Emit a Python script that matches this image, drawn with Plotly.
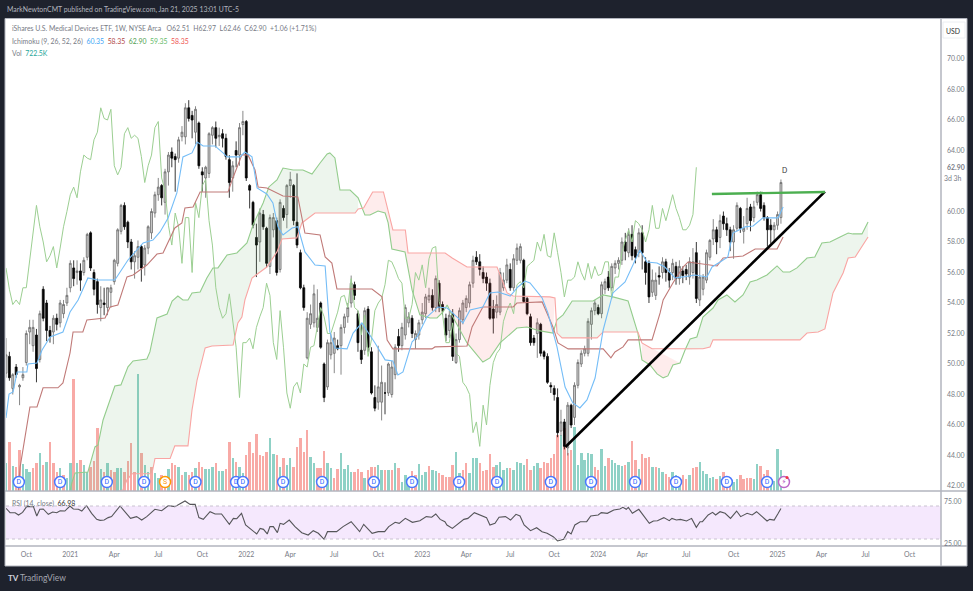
import numpy as np
import pandas as pd
import plotly.graph_objects as go

BASE = pd.Timestamp("2020-08-24")

opens = [49.4,50.5,48.4,49.8,48.5,49.1,50.1,52.1,51.2,51.9,
50.3,54.9,54.0,52.2,52.1,53.0,52.7,53.3,54.0,55.0,
56.3,56.0,56.1,56.0,57.0,58.6,56.0,55.4,53.7,54.0,
53.7,54.7,55.4,56.6,58.7,60.4,59.3,58.0,56.7,57.0,
57.7,56.5,57.6,58.6,59.9,61.1,61.7,60.6,62.6,63.9,
63.6,63.5,64.9,64.9,66.8,66.3,65.2,65.8,62.6,62.2,
62.5,65.0,65.5,64.9,65.1,64.8,63.4,62.2,64.0,63.7,
65.7,65.9,61.7,60.6,58.3,58.0,59.8,58.9,56.4,58.8,
59.4,56.2,60.2,59.8,61.7,61.7,59.3,57.3,55.0,50.4,
52.6,52.7,52.4,54.0,50.0,48.5,50.6,50.7,51.2,51.2,
52.4,53.1,54.0,55.2,53.3,50.9,50.9,53.6,50.8,47.8,
47.5,47.5,48.1,48.1,48.0,49.3,51.8,51.2,51.9,52.7,
53.0,51.6,51.9,52.9,53.3,54.2,54.5,53.7,55.3,53.9,
53.0,52.2,53.3,50.1,51.6,52.9,53.7,54.0,55.3,57.0,
56.7,56.0,55.7,55.3,53.6,53.4,53.4,55.0,55.5,56.2,
55.0,56.8,56.8,56.8,54.3,53.1,51.7,52.0,52.6,50.8,
50.5,48.6,48.4,47.8,45.6,46.2,44.5,47.3,46.5,48.6,
50.0,50.7,50.7,52.6,53.5,53.7,53.3,54.9,55.7,55.0,
56.3,56.6,56.8,58.0,57.3,58.5,57.5,57.3,
58.6,56.7,56.6,54.7,54.5,55.8,56.0,56.7,56.0,56.0,
56.4,55.6,56.1,56.2,55.7,56.0,57.3,54.2,54.9,55.5,
57.0,58.2,58.8,58.3,59.7,59.2,58.8,58.0,58.9,60.2,
58.7,59.2,60.3,59.6,60.6,61.1,60.4,59.6,59.1,58.8,
59.1,59.6]

highs = [51.7,50.8,49.4,50.0,48.7,49.8,52.2,52.9,52.9,52.3,
53.5,55.1,54.2,52.5,53.2,53.3,54.2,54.2,55.0,56.8,
56.8,56.8,56.6,57.0,58.6,58.7,56.2,55.6,55.1,55.0,
55.0,55.2,56.9,58.9,60.5,60.6,59.4,58.2,57.4,58.1,
57.8,57.8,59.1,60.2,61.3,62.2,61.8,62.8,63.9,64.2,
63.8,64.9,65.6,67.1,67.3,66.6,66.9,65.9,62.9,63.0,
65.2,65.6,65.9,65.5,65.4,65.1,63.7,63.3,64.6,65.8,
66.6,66.0,61.8,60.7,59.2,60.2,60.1,59.0,59.8,59.9,
59.6,60.8,60.4,61.8,62.6,61.8,62.5,57.5,55.2,53.4,
53.9,55.2,54.9,54.1,50.1,51.6,52.0,52.1,51.6,52.6,
53.3,54.0,55.8,55.4,53.5,52.6,53.7,53.8,51.1,48.6,
51.2,49.9,48.8,50.1,50.2,51.3,52.3,52.7,53.9,53.4,
53.2,52.2,52.9,54.0,54.6,55.0,54.9,55.8,55.5,54.1,
53.3,53.5,53.6,52.0,53.7,54.2,54.5,55.4,57.1,57.4,
57.2,56.4,56.0,55.6,54.2,54.5,56.3,56.0,56.9,56.6,
57.2,57.9,57.9,56.9,54.4,53.3,51.9,53.0,52.7,50.9,
50.7,48.8,48.6,48.4,47.0,46.4,47.5,47.4,48.8,50.3,
50.9,51.2,53.0,53.7,54.2,53.9,55.4,55.6,56.1,56.6,
56.8,57.0,58.3,58.6,58.9,59.1,57.7,58.9,
59.1,57.0,56.8,56.2,56.0,56.4,57.0,56.9,56.3,56.9,
56.7,56.8,56.4,56.5,57.0,57.6,58.0,56.8,55.9,57.5,
58.2,59.5,59.0,59.8,60.0,59.6,59.0,59.1,60.6,60.3,
59.7,60.9,60.5,60.7,61.3,61.3,60.6,59.7,59.5,59.3,
60.0,62.1]

lows = [49.1,48.9,48.0,49.1,47.3,48.9,49.9,51.3,50.8,48.8,
50.1,52.8,51.5,51.4,51.3,52.2,52.4,53.0,53.8,54.7,
55.1,55.2,54.8,55.8,56.8,56.1,54.5,53.3,52.8,53.2,
53.2,53.7,55.2,56.4,58.5,58.8,57.6,56.2,55.6,56.2,
55.4,55.8,57.2,58.2,59.6,60.7,60.4,59.8,61.7,62.9,
61.3,63.2,64.6,64.4,65.9,64.8,64.4,62.8,61.3,60.9,
62.2,64.4,64.2,64.3,64.2,63.4,60.9,61.3,62.9,63.0,
65.0,62.0,60.2,58.9,55.7,56.7,58.8,56.3,55.9,58.3,
55.8,56.0,59.4,58.9,60.9,59.1,57.6,54.9,53.5,50.3,
52.3,52.4,52.1,51.0,47.5,48.3,50.3,49.4,50.9,49.3,
52.0,52.7,53.7,54.2,50.8,50.0,50.6,50.8,48.0,46.9,
47.0,46.3,46.7,47.9,47.8,49.0,50.8,50.9,51.6,52.4,
51.7,51.0,51.6,52.6,53.0,54.0,53.5,53.4,53.4,53.2,
51.5,51.7,50.2,50.0,51.4,52.6,53.4,53.7,55.0,56.5,
55.8,55.3,54.8,52.9,52.0,53.0,53.2,54.8,55.3,54.8,
54.8,56.5,56.6,54.0,53.2,51.2,51.2,50.4,50.5,50.3,
48.7,48.1,47.6,45.2,45.3,44.4,44.0,45.8,46.0,48.4,
49.8,50.5,50.5,51.6,53.2,53.2,53.0,54.6,54.8,54.8,
55.9,56.2,56.5,56.8,57.0,56.8,56.6,57.0,
56.2,55.2,54.0,54.4,54.2,55.2,55.6,55.4,55.0,55.5,
55.2,55.2,55.3,55.5,55.2,55.6,54.0,53.8,54.5,55.3,
56.8,57.8,57.2,57.6,58.8,58.4,57.4,56.9,58.7,58.6,
57.9,58.8,58.7,59.3,60.4,60.0,59.4,57.7,57.9,58.0,
58.8,59.2]

closes = [50.6,49.1,49.3,49.3,48.6,49.3,52.0,52.4,52.4,49.7,
53.3,53.0,52.2,51.8,53.0,52.6,54.0,53.9,54.5,56.6,
55.6,56.1,55.5,56.8,58.5,56.3,54.9,53.9,54.2,53.9,
55.0,55.0,56.8,58.8,60.4,59.0,58.0,56.7,57.1,57.7,
56.3,57.6,59.0,60.0,61.1,61.6,60.9,62.6,63.7,63.5,
63.4,64.7,65.2,66.8,66.1,66.0,66.7,63.0,62.4,62.9,
65.1,65.5,64.8,65.0,64.8,63.6,61.9,63.0,63.7,65.5,
65.9,62.2,61.4,59.1,57.8,59.9,59.0,56.6,59.6,59.6,
56.0,60.6,59.6,61.7,62.1,59.4,57.8,55.0,53.7,53.0,
53.3,54.6,53.0,51.1,47.8,51.4,51.4,51.7,51.0,52.4,
53.1,53.7,55.3,54.5,51.4,50.3,53.5,51.1,48.1,47.1,
48.5,48.8,48.1,50.0,49.8,51.1,51.2,52.4,53.7,53.1,
52.0,52.0,52.7,53.4,54.4,54.5,53.7,55.6,53.7,53.5,
51.9,53.2,50.5,51.6,53.5,54.0,54.3,55.2,56.8,56.7,
56.2,55.6,55.3,53.0,53.0,53.9,56.0,55.5,56.5,55.0,
56.9,57.6,57.7,54.1,53.3,51.4,51.4,52.7,50.7,50.5,
48.8,48.5,48.0,45.5,46.2,44.6,47.3,46.0,48.6,50.1,
50.7,51.0,52.8,53.5,54.0,53.3,55.2,55.4,55.0,56.4,
56.6,56.8,58.0,57.4,58.5,57.1,57.0,58.6,
57.3,56.0,54.4,55.5,55.5,55.7,56.7,56.0,55.5,56.6,
55.6,56.4,55.8,55.9,56.7,56.7,54.3,55.7,55.7,57.3,
58.1,58.8,58.0,59.4,59.2,58.8,58.0,58.8,60.4,58.9,
58.9,60.2,59.4,60.3,61.1,60.2,59.6,58.8,58.8,59.1,
59.8,61.9]

vol_early = [2.49,4.44,2.25,2.13,3.69,2.43,1.95,1.74,2.04,2.49,
3.45,2.34,2.64,4.44,2.49,1.74,2.10,1.44,1.14,2.49,
10.11,2.55,2.79,2.34,1.74,2.19,2.73,5.64,1.98,1.74,
2.49,1.89,1.74,2.10,2.04,1.74,2.70,4.29,1.74,10.53,
3.39,2.34,1.74,2.19,1.59,1.14,1.44,1.35,1.95,2.49,
2.34,2.19,1.44,1.74,1.44,1.74,2.04,2.64,2.19,1.95,
1.95,2.19,2.49,1.83,1.83,1.95,4.38,2.94,2.64,2.19,
1.59,3.24,4.44,3.39,5.10,3.24,3.15,3.48,4.74,3.33,
3.24,2.19,3.00,2.34,2.94,2.19,3.99,4.74,3.54,5.49,
3.06,2.55,2.04,2.04]
vol_mid = [3.63,2.49,2.04,1.20,1.98,3.39,1.95,2.34,1.74,1.74,
1.95,1.74,1.14,1.89,2.13,2.13,2.34,1.89,1.89,1.89,
1.89,2.49,2.04,0.84,1.44,1.20,1.80,1.44,2.40,1.44,
1.68,2.28,1.89,1.83,1.59,1.44,1.29,1.29,2.34,3.48,
1.59,1.89,2.49,1.59,3.00,3.00,2.49,1.83,1.89,3.33,
2.19,2.34,2.58,1.89,2.04,2.10,1.89,2.58,2.49,2.34,
2.85,1.89,2.25,2.49,2.04,2.58,2.55,2.94,3.33,5.04,
5.04,5.64,3.39,3.69,5.73,2.34,3.39,2.79,3.45,3.33,
2.19,1.89,3.78,2.25,2.94,2.79,2.49,2.34,2.25,2.34,2.58]
vol_late = [4.53,2.79,1.98,3.30,2.94,3.09,2.13,2.13,2.04,1.68,
1.53,1.29,1.74,1.44,0.99,1.44,1.05,1.41,2.04,2.19,
2.58,1.80,1.50,1.14,1.29,1.05,1.35,1.68,1.29,1.14,
0.84,1.05,1.44,1.05,1.14,1.14,1.08,2.40,2.25,1.50,
1.89,1.14,0.93,3.75,1.89]
volumes = vol_early + vol_mid + vol_late

# t = teal bar, p = pink bar, as read bar by bar
vol_dirs = ("tptpptttpp" "tptppptptt" "ptpttppptp" "tppttppppt" "pttpttppt"
            "pptptpptpp" "tttpttpptp" "ttpppppppt" "tptpttpppp" "pttpp"
            "pttppttttp" "pptpppttpt" "ptptttpptt" "tpttpppppt" "tpptttpppp"
            "pttttptttt" "ppttpppppp" "tppptttttt" "ppttpttttp" "t"
            "pptppptptt" "pptttpptpp" "tttttptppp" "ttppppttpp" "ptttt")

senkou_b_w = [17,34.7,35.9,37.4,43.3,44.2,48.7,50.1,54,55.2,56.7,59.1,61.1,67.4,68.8,70,70.9,73,77.4,80.4,81.9,86.3,87.8,91.7,103.6,104.5,106.1,108.8,112,114.8,118.5,119.3,130.3,132.4,136.8,145.7,148.7,150.5,161.4,162.9,163.5,165,175.4,177.2,187.5,188.7,191.7,206.8,208.9,209.8,235.6,237.7,241,243,245.4,248.4,249.9,252,255.8]
senkou_b = [40.5,41.74,42.4,42.8,42.8,43.8,43.8,44.63,44.63,46.99,48.95,51.05,51.18,51.25,52.69,53.08,54.2,55.64,56.36,57.35,58.2,58.27,59.25,59.9,59.9,60.17,60.23,61.28,61.28,58.79,58.79,57.28,57.28,56.95,56.36,56.36,54.66,54.46,54.4,54.33,52.03,51.71,51.71,52.1,52.1,51.38,51,51,51.12,51.58,51.58,52.03,52.1,52.3,54.66,55.97,56.95,57.02,58.33]
senkou_a_w = [17,19,19.6,20.5,24.3,26.4,27.3,28.8,32.3,34.1,36.2,37.7,41.8,42.7,44.8,47.8,49.3,51,52.5,54,55.2,57.6,59.6,61.4,62.9,65.6,68.5,71.5,73.3,76.3,78,80.4,82.2,85.2,88.1,90.8,93.2,95.3,96.1,97.6,99.1,102.1,104.5,106.5,108,110.4,112.5,113.4,114.5,118.4,120.5,122.8,125.8,127.9,129.7,130.9,132.6,136.8,141.5,143.6,146.6,151.6,154.6,158.5,162.3,163.5,165.3,168,174.2,177.2,180.1,184.6,187.5,188.7,191.1,193.2,195,196.4,197.9,200,201.5,203,205,206.8,209.8,211.3,213.9,216.3,218.7,220.8,222.8,225.8,228.8,230.6,232.6,234.7,237.7,240,242.1,244.5,247.5,249.9,251.3,254,255.8]
senkou_a = [40.5,41.7,42.26,42.85,42.92,44.56,44.69,46.33,48.56,48.63,49.81,50.2,50.33,50.79,53.02,53.28,54.13,54.46,54.2,54.2,54.66,54.72,55.64,56.3,56.3,57.15,57.28,57.94,59.12,60.56,61.61,62.07,62.85,62.72,62.72,62.46,63.18,63.77,63.84,63.51,61.41,61.41,60.89,59.77,59.77,60.03,59.9,59.25,57.54,57.35,54.85,53.22,53.02,53.02,53.41,53.87,53.08,51.38,50.13,50.4,51.38,52.36,52.43,52.17,52.03,52.89,53.22,54.13,54.13,54.53,54.4,54.13,52.03,50.27,49.94,49.35,49.09,49.22,49.94,50.07,50.92,51.64,51.77,53.08,53.67,54.2,54.53,54.07,54.53,55.38,55.51,55.84,56.43,56.03,56.03,56.3,56.95,57.02,57.94,58,58.33,58.59,58.53,58.53,59.31]
kijun_w = [3.6,4.2,7.1,9.2,11,15.4,16.9,19,19.9,22.8,24,29.4,30.9,33.2,35.9,37.7,41.8,44.8,46.6,50.1,52.2,53.1,55.5,57.6,65.9,67.1,70,71.8,73.9,74.8,77.4,80.4,82.2,86.6,88.7,93.2,94.7,96.7,98.2,108.6,111.6,113.1,114.8,126.4,127.3,136.8,138.3,141.5,150.5,151.6,159.1,162.3,163.8,166.8,177.2,179.5,180.7,183.1,184.6,191.7,194.1,195,197.9,200.9,202.4,211,212.8,218.7,222.3,228.8,230.6]
kijun = [41.67,43.25,47.18,47.18,48.44,48.44,48.76,50.72,52.1,52.1,52.89,53.02,53.74,53.87,55.71,55.84,56.49,57.21,57.28,58.92,59.25,60.23,60.3,61.28,61.28,62.07,63.71,63.71,62.72,61.61,61.54,61.22,61.02,60.95,58.59,58.46,57.02,56.62,54.92,54.92,54.4,51.57,50.99,50.99,51.12,51.18,52.43,53.74,53.74,54,54.07,52.43,51.38,50.99,50.99,50.4,50.79,51.12,51.58,51.58,53.35,54.2,55.31,56.36,56.69,56.43,56.95,57.08,57.54,57.54,58.33]
tenkan_w = [0,0.9,2.1,3.3,6.2,6.5,9.2,10.7,13.1,16.9,19,21.4,24.3,27.3,32.3,36.2,40.7,43.6,45.7,48.1,50.7,52.5,55.2,56.7,58.5,62,64.4,65.6,69.4,70.9,73,74.5,77.4,79.2,80.7,82.2,84.9,86.6,88.7,91.7,94.7,96.1,97.6,101.2,103,105.6,109.5,112.5,114.8,116.3,117.8,120.5,122,124.9,128.2,130.9,134.1,135.6,137.7,141.5,143.6,146,149.6,151.9,154,155.5,159.1,160.8,163.5,165.9,168.2,170.3,172.4,174.8,177.2,180.1,183.7,188.1,190.2,193.2,195.5,198.5,200.9,204.5,208,209.5,211.9,214.2,215.7,219.3,221.7,224.6,229.1,230.6]
tenkan = [46.46,48.03,48.17,49.48,49.48,50,50.07,50.92,51.77,52.1,53.41,54.2,55.64,55.51,55.51,56.82,57.94,58.13,58.66,59.58,61.22,63.58,63.84,64.56,64.3,64.3,63.84,63.58,63.58,63.9,63.58,61.54,61.15,60.56,59,58.46,58.92,59,57.35,56.49,56.43,52.1,51.05,50.99,52.03,52.69,51.38,50.27,50.2,49.28,49.48,51.45,51.77,53.08,53.74,53.67,53.02,52.69,53.54,53.74,54.66,54.72,54.46,55.05,55.44,55.31,54.33,53.35,51.12,48.49,47.45,47.12,47.64,49.08,52.23,54.66,55.38,57.48,56.69,56.62,56.36,55.64,55.71,55.84,55.71,56.36,56.69,57.02,58.59,58.99,59.05,59.58,59.58,60.3]
PITCH_FIX = 3.37 / 3.384

rsi_w = [0,1.2,2.7,3.7,4.9,6.1,8.1,9.1,10,11,12.5,13.8,15,16,17.4,18.9,19.9,21.4,22.4,23.8,25.3,26.8,27.8,29,30.2,31.2,33.7,36.8,38.6,40.1,41.6,44,46,48,49.9,51.4,52.9,54.4,55.9,57,58.3,60.3,61.8,63.7,66,67.2,68.2,69.6,70.8,74.1,75.1,76.1,77.2,78,79,80.2,81,82,83.7,85.4,87.4,89.3,90.8,92.3,94,95,97.7,99.6,102,104.5,105.7,108.2,110,111.9,113.1,115,116.2,118,120.1,122.3,124.2,125.8,127,128.3,129.7,130.3,131.9,135.3,136.5,138.4,140.2,142,143,144.5,145.7,147.6,149.1,150.7,151.9,153.1,155,156.8,158.4,159.9,161.7,163,164.8,166,167,168.1,169.7,171.6,172.8,175,175.9,177.7,179.6,181.4,182.3,183.3,183.9,185.1,187,190.1,191.3,192.5,194.4,196,196.8,198.1,199.3,201.1,202.6,204,205.1,205.8,207.5,208.8,209.7,211,212.5,214.1,215.9,217.1,219,220.5,221.8,223.3,224.9,225.7,227,228.2,229]
rsi = [67.2,61.9,61.9,59.1,62.3,69.2,69.2,57.9,66,66.4,59.9,62.7,61.9,64.3,63.9,70,66.4,66,63.9,70.4,61.1,53.8,52.6,53,55.9,57.1,70,55,57.1,53,57.1,66,64.3,70.4,69.2,72.4,76.1,72,72,55.9,53.8,63.1,60.3,60.3,47.8,55,54.6,61.1,47,36.1,42.9,41.7,36.1,45,45,37.7,49,47.8,53,45,37.7,34.8,40.1,36.9,29.6,38.9,38.9,45,51,38.9,47.8,36.9,38.9,38.9,45,50.2,49,55,50.2,52.2,57.1,56.3,60.3,53.8,51,47,42.9,53.8,55,61.9,59.1,55.9,47,49,56.3,57.1,53,59.9,57.9,47,40.1,43.7,38.9,36.9,32.8,27.6,29.6,38.9,36.1,47,51,51,57.9,59.1,61.9,61.1,65.2,66.4,68.4,66,68.4,61.1,66,49,51.8,52.2,55.9,52.2,55,53,53.8,51.8,55,44.1,51,51,59.1,62.3,59.1,63.1,61.1,55,63.9,57.1,61.1,59.1,63.1,57.1,51.8,53.8,53,61.1,66.98]

div_weeks = [3.8,16,29.8,40.8,56,68,70,81.9,93.4,108.7,120,133.9,145.1,161,172.9,185.9,198,213,224.9]
split_week = [47]
flash_week = [229.9]

month_ticks = ["2020-10-05","2021-01-04","2021-04-05","2021-07-05","2021-10-04","2022-01-03","2022-04-04","2022-07-04","2022-10-03","2023-01-02","2023-04-03","2023-07-03","2023-10-02","2024-01-01","2024-04-01","2024-07-01","2024-10-07","2025-01-06","2025-04-07","2025-07-07","2025-10-06"]
month_labels = ["Oct","2021","Apr","Jul","Oct","2022","Apr","Jul","Oct","2023","Apr","Jul","Oct","2024","Apr","Jul","Oct","2025","Apr","Jul","Oct"]
price_ticks = [42,44,46,48,50,52,54,56,58,60,62.9,64,66,68,70]
price_labels = ["42.00","44.00","46.00","48.00","50.00","52.00","54.00","56.00","58.00","60.00","<b>62.90</b>","64.00","66.00","68.00","70.00"]

# ---- layout constants (pixels of the 973x591 page)
W, H = 973, 591
L, R, T, B = 6, 941, 19, 546
SPLIT = 491
PAPER = "#1e222d"


def px(x):
    return (x - L) / (R - L)


def py(y):
    return (B - y) / (B - T)


def wk(a):
    return BASE + pd.to_timedelta(np.asarray(a, dtype=float) * 7, unit="D")


weeks = np.arange(len(closes))
dates = wk(weeks)
fig = go.Figure()

# volume, on the base axis so that everything else lies over it
bar_colors = ["#8fd1c6" if d == "t" else "#f8aaa6" for d in vol_dirs]
fig.add_trace(go.Bar(x=dates, y=volumes, marker=dict(color=bar_colors, line_width=0),
                     width=0.72 * 7 * 86400000, yaxis="y", hoverinfo="skip", showlegend=False))

# cloud
a_w, a_v = np.array(senkou_a_w) * PITCH_FIX, np.array(senkou_a)
b_w, b_v = np.array(senkou_b_w) * PITCH_FIX, np.array(senkou_b)


def cloud(w0, w1, color):
    m_a = (a_w >= w0) & (a_w <= w1)
    m_b = (b_w >= w0) & (b_w <= w1)
    xs = np.concatenate([a_w[m_a], b_w[m_b][::-1]])
    ys = np.concatenate([a_v[m_a], b_v[m_b][::-1]])
    fig.add_trace(go.Scatter(x=wk(xs), y=ys, mode="lines", line_width=0, fill="toself",
                             fillcolor=color, yaxis="y2", hoverinfo="skip", showlegend=False))


GREEN_FILL, PINK_FILL = "rgba(110,175,110,0.12)", "rgba(245,95,95,0.12)"
cloud(16, 104.3, GREEN_FILL)
cloud(104.3, 162.5, PINK_FILL)
cloud(162.5, 186.8, GREEN_FILL)
cloud(186.8, 200.6, PINK_FILL)
cloud(200.6, 256, GREEN_FILL)

# chikou
chikou = list(closes[25:])
chikou[-1] = 62.90
fig.add_trace(go.Scatter(x=wk(weeks[:len(chikou)]), y=chikou, mode="lines",
                         line=dict(color="#9ccf92", width=1), yaxis="y2", hoverinfo="skip", showlegend=False))

# candles
fig.add_trace(go.Candlestick(x=dates, open=opens, high=highs, low=lows, close=closes, yaxis="y2",
                             increasing=dict(line=dict(color="#6a6a6a", width=0.8), fillcolor="#cfcfcf"),
                             decreasing=dict(line=dict(color="#050505", width=0.8), fillcolor="#050505"),
                             whiskerwidth=0, hoverinfo="skip", showlegend=False))

for xs, ys, col in [(senkou_a_w, senkou_a, "#93cc8c"), (senkou_b_w, senkou_b, "#f9a5a3"),
                    (kijun_w, kijun, "#c07a78"), (tenkan_w, tenkan, "#74bdf7")]:
    fig.add_trace(go.Scatter(x=wk(np.array(xs) * PITCH_FIX), y=ys, mode="lines",
                             line=dict(color=col, width=1.1), yaxis="y2", hoverinfo="skip", showlegend=False))

# drawn trend lines
fig.add_trace(go.Scatter(x=wk([165.3, 242.0]), y=[44.56, 61.3], mode="lines",
                         line=dict(color="#000000", width=2.6), yaxis="y2", hoverinfo="skip", showlegend=False))
fig.add_trace(go.Scatter(x=wk([208.6, 242.0]), y=[61.15, 61.28], mode="lines",
                         line=dict(color="#4caf50", width=2.4), yaxis="y2", hoverinfo="skip", showlegend=False))

# event badges
MARK_Y = 42.26
fig.add_trace(go.Scatter(x=wk(div_weeks), y=[MARK_Y] * len(div_weeks), mode="markers+text", text=["D"] * len(div_weeks),
                         textposition="middle center", textfont=dict(size=7, color="#2962ff", family="Roboto"),
                         marker=dict(size=11, color="#ffffff", line=dict(color="#4a78ff", width=1.5)),
                         yaxis="y2", hoverinfo="skip", showlegend=False))
fig.add_trace(go.Scatter(x=wk(split_week), y=[MARK_Y], mode="markers+text", text=["S"],
                         textposition="middle center", textfont=dict(size=7, color="#ff9800", family="Roboto"),
                         marker=dict(size=11, color="#ffffff", line=dict(color="#ff9800", width=1.5)),
                         yaxis="y2", hoverinfo="skip", showlegend=False))
fig.add_trace(go.Scatter(x=wk(flash_week), y=[MARK_Y], mode="markers+text", text=["⚡"],
                         textposition="middle center", textfont=dict(size=7, color="#ab47bc", family="DejaVu Sans"),
                         marker=dict(size=11, color="#ffffff", line=dict(color="#ba68c8", width=1.5)),
                         yaxis="y2", hoverinfo="skip", showlegend=False))

# RSI
fig.add_trace(go.Scatter(x=wk(rsi_w), y=rsi, mode="lines", line=dict(color="#555559", width=1.1),
                         yaxis="y3", hoverinfo="skip", showlegend=False))

GREY = "#787b86"
shapes = [
    dict(type="rect", xref="paper", yref="paper", x0=px(5), x1=px(967), y0=py(566), y1=py(18.5),
         fillcolor="#ffffff", line=dict(color="#b2b5be", width=1), layer="below"),
    dict(type="rect", xref="paper", yref="y3", x0=0, x1=1,
         y0=30, y1=70, fillcolor="#f5e8fd", line_width=0, layer="below"),
    dict(type="line", xref="paper", yref="y3", x0=0, x1=1, y0=70, y1=70, line=dict(color="#c9c2d0", width=1, dash="dot")),
    dict(type="line", xref="paper", yref="y3", x0=0, x1=1, y0=30, y1=30, line=dict(color="#c9c2d0", width=1, dash="dot")),
    dict(type="line", xref="paper", yref="paper", x0=px(5), x1=px(967), y0=py(SPLIT), y1=py(SPLIT), line=dict(color="#b2b5be", width=1.5)),
    dict(type="line", xref="paper", yref="paper", x0=px(5), x1=px(967), y0=py(B), y1=py(B), line=dict(color="#b2b5be", width=1.5)),
    dict(type="line", xref="paper", yref="paper", x0=px(R), x1=px(R), y0=py(566), y1=py(18.5), line=dict(color="#b2b5be", width=1.5)),
    dict(type="rect", xref="paper", yref="paper", x0=px(943), x1=px(965), y0=py(38), y1=py(22),
         fillcolor="#ffffff", line=dict(color="#eceef2", width=1), layer="above"),
    dict(type="circle", xref="paper", yref="paper", x0=px(785.5), x1=px(788.5), y0=py(479), y1=py(476),
         fillcolor="#f23645", line_width=0, layer="above"),
]

FONT = "Lato"
TS = 6.9


def note(x, y, text, size=TS, color=GREY, anchor="left"):
    return dict(xref="paper", yref="paper", x=px(x), y=py(y), text=text, showarrow=False, xanchor=anchor, yanchor="middle",
                align="left", font=dict(family=FONT, size=size, color=color))


annotations = [
    note(5, 10, "MarkNewtonCMT published on TradingView.com, Jan 21, 2025 13:01 UTC-5", TS, "#b2b5be"),
    note(10, 29, "iShares U.S. Medical Devices ETF, 1W, NYSE Arca&nbsp;&nbsp;&nbsp;O62.51&nbsp;&nbsp;H62.97&nbsp;&nbsp;L62.46&nbsp;&nbsp;C62.90&nbsp;&nbsp;+1.06 (+1.71%)"),
    note(10, 41, "Ichimoku (9, 26, 52, 26)&nbsp;&nbsp;<span style='color:#42a5f5'>60.35</span>&nbsp;&nbsp;<span style='color:#b04545'>58.35</span>&nbsp;&nbsp;<span style='color:#4f9d4f'>62.90</span>&nbsp;&nbsp;<span style='color:#66bb6a'>59.35</span>&nbsp;&nbsp;<span style='color:#ef5350'>58.35</span>"),
    note(10, 53, "Vol&nbsp;&nbsp;<span style='color:#26a69a'>722.5K</span>"),
    note(10, 503, "RSI (14, close)&nbsp;&nbsp;<span style='color:#333'>66.98</span>"),
    note(953, 31, "USD", TS, "#333333", "center"),
    note(953, 178, "3d 3h", TS, GREY, "center"),
    note(953, 501, "75.00", TS, GREY, "center"),
    note(953, 543, "25.00", TS, GREY, "center"),
    note(784, 170, "D", TS, "#333333", "center"),
    note(6, 578, "<b>TV</b>", 8, "#d1d4dc"),
    note(18, 578, "TradingView", 8.5, "#a3a6af"),
]

fig.update_layout(
    width=W, height=H, autosize=False,
    margin=dict(l=L, r=W - R, t=T, b=H - B, pad=0),
    paper_bgcolor=PAPER, plot_bgcolor="#ffffff",
    barmode="overlay", bargap=0, boxgap=0.2, showlegend=False, hovermode=False,
    font=dict(family=FONT, size=TS, color=GREY),
    xaxis=dict(type="date", domain=[0, 1], range=[BASE, BASE + pd.Timedelta(days=276.3 * 7)],
               rangeslider=dict(visible=False), showgrid=False, zeroline=False, showline=False,
               tickmode="array", tickvals=month_ticks, ticktext=month_labels,
               tickfont=dict(family=FONT, size=TS, color=GREY), ticks="", anchor="y3", ticklabelstandoff=3),
    yaxis=dict(domain=[py(SPLIT), 1], range=[0, (SPLIT - T) * 0.09], visible=False, fixedrange=True),
    yaxis2=dict(domain=[py(SPLIT), 1], overlaying="y", side="right", anchor="x",
                range=[70 - (SPLIT - 59) / 15.25, 70 + (59 - T) / 15.25], showgrid=False, zeroline=False,
                tickmode="array", tickvals=price_ticks, ticktext=price_labels, ticks="", ticklabelstandoff=5,
                tickfont=dict(family=FONT, size=TS, color=GREY)),
    yaxis3=dict(domain=[0, py(SPLIT)], range=[30 - (B - 539) / 0.825, 70 + (506 - SPLIT) / 0.825], anchor="x",
                visible=False, fixedrange=True),
    shapes=shapes, annotations=annotations,
)
fig.write_html("out.html", config={"displayModeBar": False},
               post_script="document.body.style.margin='0';document.body.style.background='#1e222d';")
